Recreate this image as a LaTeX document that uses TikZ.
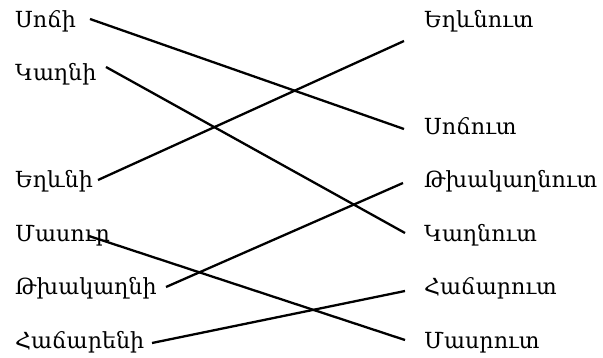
\documentclass[tikz,border=0pt]{standalone}
\usepackage{fontspec}
\newfontfamily\armfont[Script=Armenian]{DejaVu Serif}
\begin{document}
\begin{tikzpicture}[x=1pt,y=-1pt,
  lbl/.style={anchor=base west,inner sep=0pt,font=\armfont\fontsize{22.2}{26}\selectfont},
  link/.style={line width=2.3pt,black}]
\useasboundingbox (0,0) rectangle (603,358);
% left column
\node[lbl] (l1) at (15,27.5) {Սոճի};
\node[lbl] (l2) at (15,81) {Կաղնի};
\node[lbl] (l4) at (15,188) {Եղևնի};
\node[lbl] (l5) at (15,241.5) {Մասուր};
\node[lbl] (l6) at (15,295) {Թխակաղնի};
\node[lbl] (l7) at (15,348.5) {Հաճարենի};
% right column
\node[lbl] (r1) at (424,27.5) {Եղևնուտ};
\node[lbl] (r3) at (424,134.5) {Սոճուտ};
\node[lbl] (r4) at (424,188) {Թխակաղնուտ};
\node[lbl] (r5) at (424,241.5) {Կաղնուտ};
\node[lbl] (r6) at (424,295) {Հաճարուտ};
\node[lbl] (r7) at (424,348.5) {Մասրուտ};
% connector endpoints
\coordinate (a1) at (90,19);
\coordinate (a2) at (106,67);
\coordinate (a4) at (98,180);
\coordinate (a5) at (89,236);
\coordinate (a6) at (166,287);
\coordinate (a7) at (152,343);
\coordinate (b1) at (404,41);
\coordinate (b3) at (404,129);
\coordinate (b4) at (403,183);
\coordinate (b5) at (405,233);
\coordinate (b6) at (405,291);
\coordinate (b7) at (405,340);
\draw[link] (a1) -- (b3);
\draw[link] (a2) -- (b5);
\draw[link] (a4) -- (b1);
\draw[link] (a5) -- (b7);
\draw[link] (a6) -- (b4);
\draw[link] (a7) -- (b6);
\end{tikzpicture}
\end{document}
